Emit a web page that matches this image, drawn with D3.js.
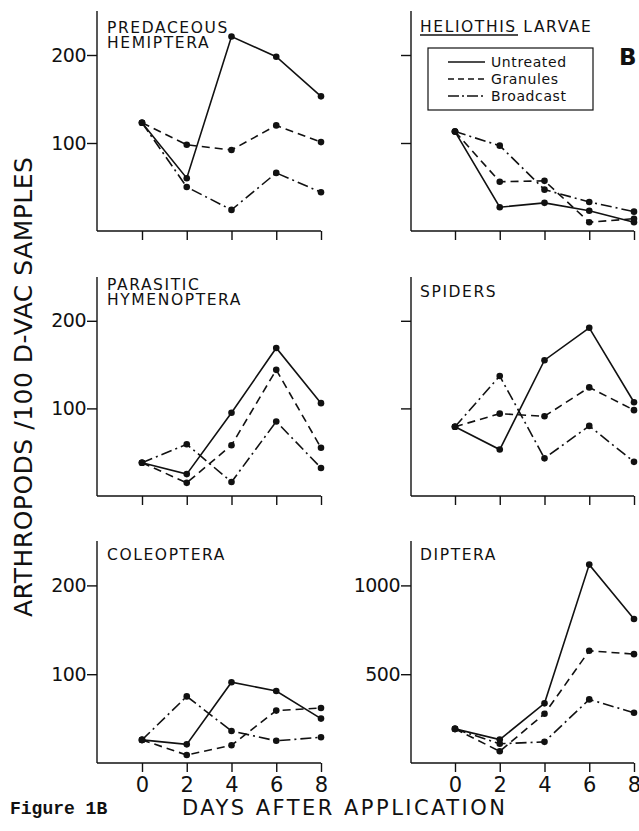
<!DOCTYPE html>
<html>
<head>
  <meta charset="utf-8">
  <title>Figure 1B</title>
  <script src="https://cdnjs.cloudflare.com/ajax/libs/d3/7.8.5/d3.min.js"></script>
  <style>
    body { margin: 0; background: #fff; }
    text { font-family: "DejaVu Sans", sans-serif; fill: #111; }
    .axis path, .axis line { stroke: #111; stroke-width: 1.4; }
  </style>
</head>
<body>
<div id="chart"></div>
<script>
// days after application
var days = [0, 2, 4, 6, 8];
var treatments = ["Untreated", "Granules", "Broadcast"];

// arthropods / 100 D-VAC samples
var predUntreated = [123, 60, 221, 198, 153];
var predGranules  = [123, 98, 92, 120, 101];
var predBroadcast = [123, 50, 24, 66, 44];

var helUntreated = [113, 27, 32, 23, 10];
var helGranules  = [113, 56, 57, 10, 14];
var helBroadcast = [113, 97, 47, 33, 22];

var parUntreated = [38, 25, 95, 169, 106];
var parGranules  = [38, 15, 58, 144, 55];
var parBroadcast = [38, 59, 16, 85, 32];

var spiUntreated = [79, 53, 155, 192, 107];
var spiGranules  = [79, 94, 91, 124, 98];
var spiBroadcast = [79, 137, 43, 80, 39];

var colUntreated = [26, 21, 91, 81, 50];
var colGranules  = [26, 9, 20, 59, 62];
var colBroadcast = [26, 75, 36, 25, 29];

var dipUntreated = [192, 132, 336, 1117, 811];
var dipGranules  = [192, 66, 277, 632, 613];
var dipBroadcast = [192, 108, 119, 358, 283];

var smallTicks = [100, 200];
var dipTicks = [500, 1000];

var dashes = ["none", "8,5", "11,4,2,4"];

var width = 639, height = 831;

var svg = d3.select("#chart").append("svg")
    .attr("width", width)
    .attr("height", height);

// layout of the six panels
var cols = [
  {axisX: 97, x0: 142, x1: 321, titleX: 107},
  {axisX: 411, x0: 455, x1: 634, titleX: 420}
];
var rows = [
  {top: 11, zero: 231},
  {top: 277, zero: 496},
  {top: 541, zero: 763}
];

var panels = [
  {title: ["PREDACEOUS", "HEMIPTERA"], titleY: 33, col: 0, row: 0, max: 250, ticks: smallTicks, labels: true,
   series: [predUntreated, predGranules, predBroadcast]},
  {title: ["HELIOTHIS LARVAE"], titleY: 32, col: 1, row: 0, max: 250, ticks: smallTicks, labels: false,
   series: [helUntreated, helGranules, helBroadcast]},
  {title: ["PARASITIC", "HYMENOPTERA"], titleY: 290, col: 0, row: 1, max: 250, ticks: smallTicks, labels: true,
   series: [parUntreated, parGranules, parBroadcast]},
  {title: ["SPIDERS"], titleY: 297, col: 1, row: 1, max: 250, ticks: smallTicks, labels: false,
   series: [spiUntreated, spiGranules, spiBroadcast]},
  {title: ["COLEOPTERA"], titleY: 560, col: 0, row: 2, max: 250, ticks: smallTicks, labels: true,
   series: [colUntreated, colGranules, colBroadcast]},
  {title: ["DIPTERA"], titleY: 560, col: 1, row: 2, max: 1250, ticks: dipTicks, labels: true,
   series: [dipUntreated, dipGranules, dipBroadcast]}
];

panels.forEach(function(p) {
  var c = cols[p.col], r = rows[p.row];
  var x = d3.scaleLinear().domain([0, 8]).range([c.x0, c.x1]);
  var y = d3.scaleLinear().domain([0, p.max]).range([r.zero, r.top]);
  var g = svg.append("g");

  // y axis
  var yAxis = d3.axisLeft(y).tickValues(p.ticks).tickSize(10).tickPadding(1)
      .tickFormat(p.labels ? d3.format("d") : "");
  g.append("g").attr("class", "axis")
    .attr("transform", "translate(" + c.axisX + ",0)")
    .call(yAxis)
    .call(s => s.select(".domain").attr("d", "M0," + r.top + "V" + r.zero))
    .selectAll("text")
      .style("font-size", "19px")
      .style("letter-spacing", "-0.5px");

  // x axis
  var xAxis = d3.axisBottom(x).tickValues(days).tickSize(9).tickPadding(5)
      .tickFormat(p.row === 2 ? d3.format("d") : "");
  g.append("g").attr("class", "axis")
    .attr("transform", "translate(0," + r.zero + ")")
    .call(xAxis)
    .call(s => s.select(".domain").attr("d", "M" + c.axisX + ",0H" + c.x1))
    .selectAll("text")
      .style("font-size", "21px");

  // title
  p.title.forEach(function(t, i) {
    g.append("text")
      .attr("x", c.titleX)
      .attr("y", p.titleY + i * 15)
      .style("font-size", "15.5px")
      .style("letter-spacing", "1.6px")
      .text(t);
  });

  // series lines and dots
  var line = d3.line().x((d, i) => x(days[i])).y(d => y(d));
  p.series.forEach(function(vals, k) {
    g.append("path")
      .datum(vals)
      .attr("d", line)
      .attr("fill", "none")
      .attr("stroke", "#111")
      .attr("stroke-width", 1.6)
      .attr("stroke-dasharray", dashes[k]);
    g.selectAll(".dot" + k)
      .data(vals)
      .enter().append("circle")
        .attr("cx", (d, i) => x(days[i]))
        .attr("cy", d => y(d))
        .attr("r", 3.3)
        .attr("fill", "#111");
  });
});

// underline for HELIOTHIS
svg.append("line")
  .attr("x1", 420).attr("x2", 518)
  .attr("y1", 35).attr("y2", 35)
  .attr("stroke", "#111").attr("stroke-width", 1.3);

// legend
var legend = svg.append("g").attr("transform", "translate(428,48)");
legend.append("rect")
  .attr("width", 165).attr("height", 62)
  .attr("fill", "#fff").attr("stroke", "#111").attr("stroke-width", 1.2);
treatments.forEach(function(t, k) {
  var ly = 14 + k * 17;
  legend.append("line")
    .attr("x1", 20).attr("x2", 57)
    .attr("y1", ly).attr("y2", ly)
    .attr("stroke", "#111").attr("stroke-width", 1.5)
    .attr("stroke-dasharray", k === 2 ? "11,3,2,3" : (k === 1 ? "6,4" : "none"));
  legend.append("text")
    .attr("x", 63).attr("y", ly + 5)
    .style("font-size", "14px")
    .style("letter-spacing", "0.6px")
    .text(t);
});

svg.append("text")
  .attr("x", 619).attr("y", 65)
  .style("font-size", "23px")
  .style("font-weight", "bold")
  .text("B");

// axis titles
svg.append("text")
  .attr("transform", "translate(32,387) rotate(-90)")
  .attr("text-anchor", "middle")
  .attr("textLength", 460)
  .attr("lengthAdjust", "spacing")
  .style("font-size", "25px")
  .text("ARTHROPODS /100  D-VAC  SAMPLES");

svg.append("text")
  .attr("x", 182).attr("y", 815)
  .attr("textLength", 323)
  .attr("lengthAdjust", "spacing")
  .style("font-size", "21px")
  .text("DAYS  AFTER  APPLICATION");

svg.append("text")
  .attr("x", 10).attr("y", 814)
  .style("font-family", "'Liberation Mono', monospace")
  .style("font-weight", "bold")
  .style("font-size", "18px")
  .text("Figure 1B");
</script>
</body>
</html>
